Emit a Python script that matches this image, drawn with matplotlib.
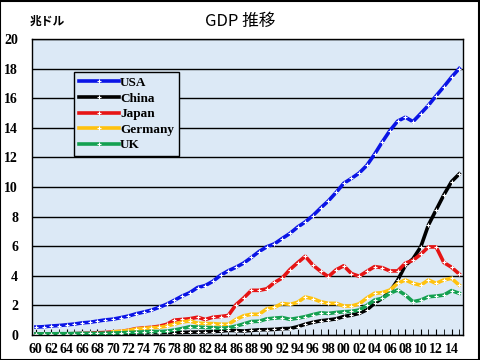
import matplotlib
matplotlib.use("Agg")
import matplotlib.pyplot as plt
import numpy as np

years = list(range(1960, 2016))
year_labels = [f"{y % 100:02d}" for y in years[::2]]

usa = [0.54, 0.56, 0.61, 0.64, 0.69, 0.74, 0.82, 0.86, 0.94, 1.02,
       1.07, 1.17, 1.28, 1.43, 1.55, 1.68, 1.87, 2.08, 2.35, 2.63,
       2.86, 3.21, 3.34, 3.63, 4.04, 4.34, 4.58, 4.86, 5.24, 5.64,
       5.96, 6.16, 6.52, 6.86, 7.29, 7.64, 8.07, 8.58, 9.06, 9.63,
       10.25, 10.58, 10.94, 11.46, 12.21, 13.04, 13.81, 14.45, 14.71, 14.42,
       14.96, 15.52, 16.16, 16.77, 17.42, 18.0]
china = [0.06, 0.05, 0.05, 0.05, 0.06, 0.07, 0.08, 0.07, 0.07, 0.08,
         0.09, 0.10, 0.11, 0.14, 0.14, 0.16, 0.15, 0.17, 0.15, 0.18,
         0.19, 0.20, 0.21, 0.23, 0.26, 0.31, 0.30, 0.27, 0.31, 0.35,
         0.36, 0.38, 0.43, 0.44, 0.56, 0.73, 0.86, 0.96, 1.02, 1.09,
         1.25, 1.34, 1.46, 1.70, 2.14, 2.48, 2.93, 3.70, 4.70, 5.15,
         5.95, 7.43, 8.45, 9.46, 10.36, 10.88]
japan = [0.04, 0.05, 0.06, 0.07, 0.08, 0.09, 0.11, 0.12, 0.15, 0.17,
         0.21, 0.24, 0.32, 0.43, 0.48, 0.52, 0.59, 0.72, 1.01, 1.05,
         1.10, 1.20, 1.05, 1.20, 1.25, 1.32, 2.05, 2.50, 3.02, 3.02,
         3.12, 3.55, 3.85, 4.42, 4.88, 5.32, 4.72, 4.30, 3.94, 4.40,
         4.68, 4.15, 3.97, 4.30, 4.62, 4.55, 4.33, 4.33, 4.85, 5.05,
         5.45, 5.95, 5.95, 4.90, 4.58, 4.12]
germany = [np.nan] * 10 + [
           0.22, 0.25, 0.30, 0.40, 0.45, 0.49, 0.52, 0.60, 0.74, 0.88,
           0.95, 0.80, 0.78, 0.77, 0.73, 0.73, 1.05, 1.30, 1.40, 1.40,
           1.77, 1.87, 2.13, 2.07, 2.21, 2.57, 2.45, 2.25, 2.14, 2.14,
           1.96, 1.96, 2.10, 2.50, 2.82, 2.86, 3.04, 3.49, 3.72, 3.49,
           3.37, 3.72, 3.49, 3.72, 3.83, 3.37]
uk = [0.07, 0.08, 0.08, 0.09, 0.09, 0.10, 0.11, 0.11, 0.11, 0.12,
      0.13, 0.15, 0.17, 0.19, 0.21, 0.24, 0.23, 0.26, 0.34, 0.44,
      0.56, 0.54, 0.51, 0.49, 0.46, 0.49, 0.60, 0.75, 0.91, 0.93,
      1.09, 1.14, 1.18, 1.06, 1.14, 1.24, 1.38, 1.50, 1.46, 1.52,
      1.57, 1.60, 1.69, 2.00, 2.36, 2.48, 2.82, 3.04, 2.70, 2.25,
      2.36, 2.59, 2.63, 2.70, 3.00, 2.82]

series = [("USA", usa, "#0a14e6"),
          ("China", china, "#000000"),
          ("Japan", japan, "#e61414"),
          ("Germany", germany, "#ffc20e"),
          ("UK", uk, "#14a050")]

plt.rcParams["font.family"] = ["Noto Sans CJK JP", "DejaVu Sans"]

fig = plt.figure(figsize=(4.8, 3.6), dpi=100)
ax = fig.add_axes([0.0667, 0.0694, 0.898, 0.8223])
ax.set_facecolor("#dce9f6")

x = np.arange(len(years))
for name, vals, color in series:
    ax.plot(x, vals, color=color, linewidth=2.6, marker="+", markersize=3,
            markeredgecolor="white", markeredgewidth=0.8, label=name)

ax.set_xlim(-0.5, len(years) - 0.5)
ax.set_ylim(0, 20)
ax.set_yticks(range(0, 21, 2))
ax.yaxis.grid(True, color="black", linewidth=1)
ax.set_axisbelow(True)
ax.tick_params(axis="y", length=0, pad=10)
ax.set_xticks(x[::2])
ax.set_xticklabels(year_labels)
ax.set_xticks(x, minor=True)
ax.tick_params(axis="x", which="both", direction="in", length=4, pad=6,
               color="black")
for lab in ax.get_xticklabels() + ax.get_yticklabels():
    lab.set_family("Liberation Serif")
    lab.set_fontweight("bold")
    lab.set_fontsize(10)
for sp in ax.spines.values():
    sp.set_color("black")
    sp.set_linewidth(1)

leg = ax.legend(loc="upper left", bbox_to_anchor=(0.097, 0.89),
                prop={"family": "Liberation Serif", "weight": "bold", "size": 9.5},
                frameon=True, fancybox=False, handlelength=3.0,
                handletextpad=0.1, labelspacing=0.25, borderpad=0.4,
                borderaxespad=0)
leg.get_frame().set_edgecolor("black")
leg.get_frame().set_facecolor("#dce9f6")
leg.get_frame().set_alpha(1)
leg.get_frame().set_linewidth(1)

fig.text(0.5, 0.94, "GDP 推移", ha="center", va="center", fontsize=12)
fig.text(0.062, 0.94, "兆ドル", ha="left", va="center", fontsize=8.5,
         fontweight="bold")

fig.patches.append(plt.Rectangle((0.001, 0.001), 0.997, 0.997,
                                 transform=fig.transFigure, fill=False,
                                 edgecolor="black", linewidth=1.5))

fig.savefig("out.png", dpi=100)
